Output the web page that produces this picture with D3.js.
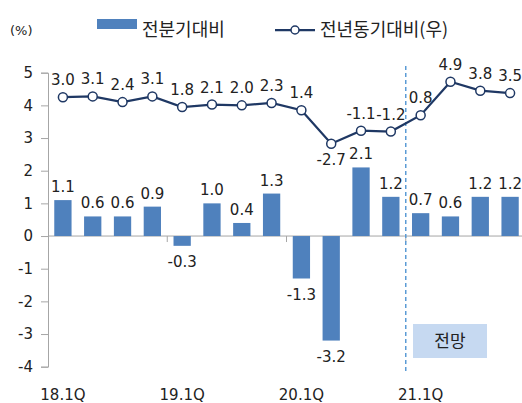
<!DOCTYPE html>
<html>
<head>
<meta charset="utf-8">
<script src="https://cdn.jsdelivr.net/npm/d3@7"></script>
<style>
  body { margin: 0; background: #fff; }
  text { font-family: "DejaVu Sans", sans-serif; fill: #222; }
  .kr { font-family: "Noto Sans CJK KR", sans-serif; }
</style>
</head>
<body>
<div id="chart"></div>
<script>
// quarters, 18.1Q .. 21.4Q
var quarters = ["18.1Q","18.2Q","18.3Q","18.4Q","19.1Q","19.2Q","19.3Q","19.4Q",
                "20.1Q","20.2Q","20.3Q","20.4Q","21.1Q","21.2Q","21.3Q","21.4Q"];
// 전분기대비 (bars, left axis)
var qoq = [1.1, 0.6, 0.6, 0.9, -0.3, 1.0, 0.4, 1.3, -1.3, -3.2, 2.1, 1.2, 0.7, 0.6, 1.2, 1.2];
// 전년동기대비 (line, hidden right axis)
var yoy = [3.0, 3.1, 2.4, 3.1, 1.8, 2.1, 2.0, 2.3, 1.4, -2.7, -1.1, -1.2, 0.8, 4.9, 3.8, 3.5];
var xLabels = ["18.1Q", "19.1Q", "20.1Q", "21.1Q"];
var leftTicks = [-4, -3, -2, -1, 0, 1, 2, 3, 4, 5];
var forecastStart = "21.1Q";

var width = 522, height = 403;
var svg = d3.select("#chart").append("svg")
    .attr("width", width)
    .attr("height", height);

var x = d3.scaleBand()
    .domain(quarters)
    .range([48, 525])
    .paddingInner(0.42)
    .paddingOuter(0.21);

var y = d3.scaleLinear().domain([-4, 5]).range([366.7, 72.7]);
var yRight = d3.scaleLinear().domain([-30, 6]).range([366.7, 72.7]);

var axisColor = "#a6a6a6";
var barColor = "#4f81bd";
var lineColor = "#1f3864";

// left axis
var yAxis = svg.append("g")
    .attr("transform", "translate(48,0)")
    .call(d3.axisLeft(y).tickValues(leftTicks).tickSize(7).tickPadding(8)
        .tickFormat(function(d) { return String(d); }));
yAxis.select(".domain").attr("stroke", axisColor);
yAxis.selectAll(".tick line").attr("stroke", axisColor);
yAxis.selectAll("text").style("font-size", "15px").attr("fill", "#222");

// zero line (category axis)
svg.append("line")
    .attr("x1", 48).attr("x2", 525)
    .attr("y1", y(0)).attr("y2", y(0))
    .attr("stroke", axisColor);

// category ticks every 4 quarters
var step = x.step();
svg.selectAll(".ctick")
    .data(xLabels.slice(1))
    .enter().append("line")
    .attr("x1", function(d) { return x(d) - step * x.paddingInner() / 2; })
    .attr("x2", function(d) { return x(d) - step * x.paddingInner() / 2; })
    .attr("y1", y(0)).attr("y2", y(0) + 6)
    .attr("stroke", axisColor);

// x labels
svg.selectAll(".xlab")
    .data(xLabels)
    .enter().append("text")
    .attr("x", function(d) { return x(d) + x.bandwidth() / 2; })
    .attr("y", 400)
    .attr("text-anchor", "middle")
    .style("font-size", "15px")
    .text(function(d) { return d; });

// forecast divider
var divX = x(forecastStart) - step * x.paddingInner() / 2;
svg.append("line")
    .attr("x1", divX).attr("x2", divX)
    .attr("y1", 66).attr("y2", 372)
    .attr("stroke", "#5b9bd5")
    .attr("stroke-width", 1.5)
    .attr("stroke-dasharray", "4,3");

// 전망 box
svg.append("rect")
    .attr("x", 413).attr("y", 324)
    .attr("width", 74).attr("height", 34)
    .attr("fill", "#c6d9f1");
svg.append("text")
    .attr("class", "kr")
    .attr("x", 450).attr("y", 347)
    .attr("text-anchor", "middle")
    .style("font-size", "17px")
    .text("전망");

// bars
svg.selectAll(".bar")
    .data(qoq)
    .enter().append("rect")
    .attr("x", function(d, i) { return x(quarters[i]); })
    .attr("width", x.bandwidth())
    .attr("y", function(d) { return y(Math.max(0, d)); })
    .attr("height", function(d) { return Math.abs(y(d) - y(0)); })
    .attr("fill", barColor);

// bar labels
svg.selectAll(".blab")
    .data(qoq)
    .enter().append("text")
    .attr("x", function(d, i) { return x(quarters[i]) + x.bandwidth() / 2; })
    .attr("y", function(d) { return d >= 0 ? y(d) - 8 : y(d) + 21; })
    .attr("text-anchor", "middle")
    .style("font-size", "15px")
    .text(function(d) { return d.toFixed(1); });

// line
var line = d3.line()
    .x(function(d, i) { return x(quarters[i]) + x.bandwidth() / 2; })
    .y(function(d) { return yRight(d); });
svg.append("path")
    .datum(yoy)
    .attr("d", line)
    .attr("fill", "none")
    .attr("stroke", lineColor)
    .attr("stroke-width", 2.25);

svg.selectAll(".pt")
    .data(yoy)
    .enter().append("circle")
    .attr("cx", function(d, i) { return x(quarters[i]) + x.bandwidth() / 2; })
    .attr("cy", function(d) { return yRight(d); })
    .attr("r", 4.5)
    .attr("fill", "#fff")
    .attr("stroke", lineColor)
    .attr("stroke-width", 1.5);

var minYoy = d3.min(yoy);
svg.selectAll(".llab")
    .data(yoy)
    .enter().append("text")
    .attr("x", function(d, i) { return x(quarters[i]) + x.bandwidth() / 2; })
    .attr("y", function(d) { return d === minYoy ? yRight(d) + 21 : yRight(d) - 12; })
    .attr("text-anchor", "middle")
    .style("font-size", "15px")
    .text(function(d) { return d.toFixed(1); });

// legend
svg.append("text")
    .attr("x", 10).attr("y", 35)
    .style("font-size", "13px")
    .text("(%)");

svg.append("rect")
    .attr("x", 97).attr("y", 19)
    .attr("width", 40).attr("height", 10)
    .attr("fill", barColor);
svg.append("text")
    .attr("class", "kr")
    .attr("x", 142).attr("y", 36)
    .style("font-size", "18px")
    .text("전분기대비");

svg.append("line")
    .attr("x1", 275).attr("x2", 315)
    .attr("y1", 30).attr("y2", 30)
    .attr("stroke", lineColor)
    .attr("stroke-width", 2.25);
svg.append("circle")
    .attr("cx", 295).attr("cy", 30).attr("r", 4)
    .attr("fill", "#fff")
    .attr("stroke", lineColor)
    .attr("stroke-width", 1.5);
svg.append("text")
    .attr("class", "kr")
    .attr("x", 320).attr("y", 36)
    .style("font-size", "18px")
    .text("전년동기대비(우)");
</script>
</body>
</html>
